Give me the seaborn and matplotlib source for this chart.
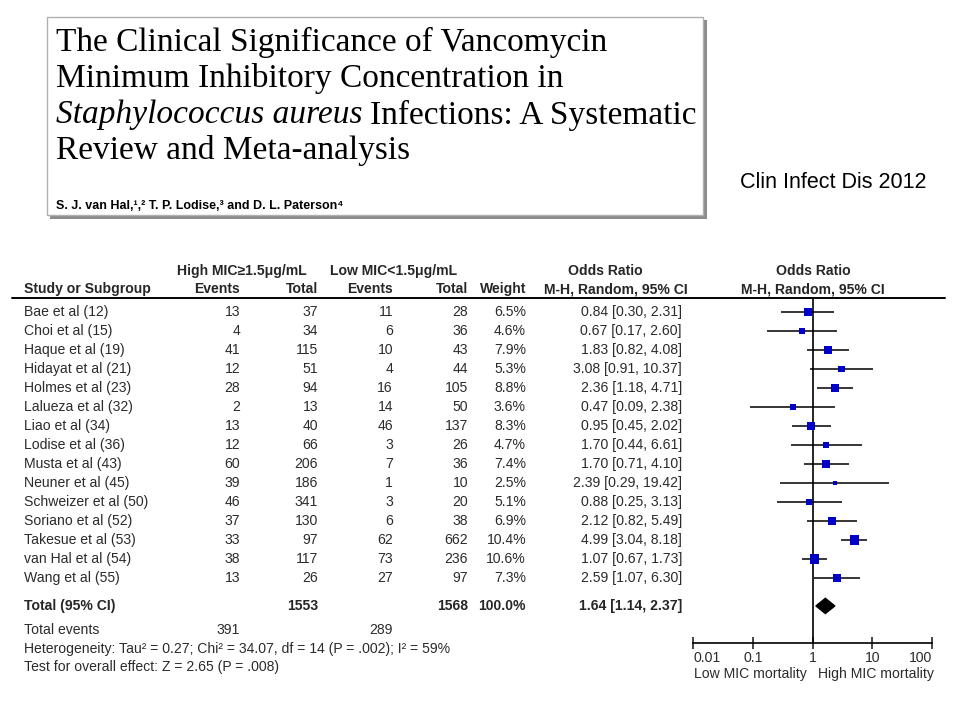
import numpy as np
import pandas as pd
import matplotlib
matplotlib.use("Agg")
import matplotlib.pyplot as plt
from matplotlib.patches import Rectangle, Polygon
import seaborn as sns

# data
studies = ["Bae et al (12)", "Choi et al (15)", "Haque et al (19)", "Hidayat et al (21)",
           "Holmes et al (23)", "Lalueza et al (32)", "Liao et al (34)", "Lodise et al (36)",
           "Musta et al (43)", "Neuner et al (45)", "Schweizer et al (50)", "Soriano et al (52)",
           "Takesue et al (53)", "van Hal et al (54)", "Wang et al (55)"]
high_events = [13, 4, 41, 12, 28, 2, 13, 12, 60, 39, 46, 37, 33, 38, 13]
high_total = [37, 34, 115, 51, 94, 13, 40, 66, 206, 186, 341, 130, 97, 117, 26]
low_events = [11, 6, 10, 4, 16, 14, 46, 3, 7, 1, 3, 6, 62, 73, 27]
low_total = [28, 36, 43, 44, 105, 50, 137, 26, 36, 10, 20, 38, 662, 236, 97]
weight = [6.5, 4.6, 7.9, 5.3, 8.8, 3.6, 8.3, 4.7, 7.4, 2.5, 5.1, 6.9, 10.4, 10.6, 7.3]
odds = [0.84, 0.67, 1.83, 3.08, 2.36, 0.47, 0.95, 1.70, 1.70, 2.39, 0.88, 2.12, 4.99, 1.07, 2.59]
ci_low = [0.30, 0.17, 0.82, 0.91, 1.18, 0.09, 0.45, 0.44, 0.71, 0.29, 0.25, 0.82, 3.04, 0.67, 1.07]
ci_high = [2.31, 2.60, 4.08, 10.37, 4.71, 2.38, 2.02, 6.61, 4.10, 19.42, 3.13, 5.49, 8.18, 1.73, 6.30]

total_or = 1.64
total_ci = [1.14, 2.37]
total_n = [1553, 1568]
total_weight = 100.0
total_events = [391, 289]
ticks = [0.01, 0.1, 1, 10, 100]
tick_labels = ["0.01", "0.1", "1", "10", "100"]

df = pd.DataFrame({"study": studies, "odds": odds, "lo": ci_low, "hi": ci_high,
                   "weight": weight, "row": np.arange(len(studies))})

sns.set_theme(style="white")
plt.rcParams['font.family'] = ['Liberation Sans', 'DejaVu Sans']

fig = plt.figure(figsize=(9.6, 7.2), dpi=100)
fig.patch.set_facecolor("white")

# overlay axes in pixel units for all the text
ax_t = fig.add_axes([0, 0, 1, 1])
ax_t.set_xlim(0, 960)
ax_t.set_ylim(720, 0)
ax_t.axis("off")

### TITLE BOX ###
ax_t.add_patch(Rectangle((50, 20), 657, 199, facecolor="#8c8c8c", edgecolor="none", zorder=1))
ax_t.add_patch(Rectangle((47, 17), 656, 198, facecolor="white", edgecolor="#b0b0b0", lw=1, zorder=2))

serif = ["Liberation Serif", "DejaVu Serif"]
tsize = 24
ax_t.text(56, 42, "The Clinical Significance of Vancomycin", fontsize=tsize, family=serif,
          va="center", color="black", zorder=3)
ax_t.text(56, 79, "Minimum Inhibitory Concentration in", fontsize=tsize, family=serif,
          va="center", color="black", zorder=3)
it = ax_t.text(56, 115, "Staphylococcus aureus", fontsize=tsize, family=serif, style="italic",
               va="center", color="black", zorder=3)
fig.canvas.draw()
bb = it.get_window_extent(renderer=fig.canvas.get_renderer())
x_end = bb.x1 * 960 / fig.bbox.width
ax_t.text(x_end + 7, 115, "Infections: A Systematic", fontsize=tsize, family=serif,
          va="center", color="black", zorder=3)
ax_t.text(56, 151, "Review and Meta-analysis", fontsize=tsize, family=serif,
          va="center", color="black", zorder=3)
ax_t.text(56, 206, "S. J. van Hal,\u00b9\u02d2\u00b2 T. P. Lodise,\u00b3 and D. L. Paterson\u2074".replace("\u02d2", ","),
          fontsize=9, fontweight="bold", va="center", color="black", zorder=3,
          family=["Liberation Sans Narrow", "Liberation Sans", "DejaVu Sans"])

ax_t.text(833, 182, "Clin Infect Dis 2012", fontsize=15.5, ha="center", va="center", color="black")

### TABLE ###
fs = 10.1
grey = "#2b2b2b"
def row_y(i):
    return 312 + 19 * i

ax_t.text(242, 271, "High MIC\u22651.5\u03bcg/mL", fontsize=fs, fontweight="bold", ha="center", va="center")
ax_t.text(394, 271, "Low MIC<1.5\u03bcg/mL", fontsize=fs, fontweight="bold", ha="center", va="center")
ax_t.text(605, 271, "Odds Ratio", fontsize=fs, fontweight="bold", ha="center", va="center")
ax_t.text(813, 271, "Odds Ratio", fontsize=fs, fontweight="bold", ha="center", va="center")
hy = 289
ax_t.text(24, hy, "Study or Subgroup", fontsize=fs, fontweight="bold", va="center")
ax_t.text(240, hy, "Events", fontsize=fs, fontweight="bold", ha="right", va="center")
ax_t.text(318, hy, "Total", fontsize=fs, fontweight="bold", ha="right", va="center")
ax_t.text(393, hy, "Events", fontsize=fs, fontweight="bold", ha="right", va="center")
ax_t.text(468, hy, "Total", fontsize=fs, fontweight="bold", ha="right", va="center")
ax_t.text(526, hy, "Weight", fontsize=fs, fontweight="bold", ha="right", va="center")
ax_t.text(616, hy, "M-H, Random, 95% CI", fontsize=fs, fontweight="bold", ha="center", va="center")
ax_t.text(813, hy, "M-H, Random, 95% CI", fontsize=fs, fontweight="bold", ha="center", va="center")
ax_t.plot([12, 945], [298, 298], color="black", lw=1.4)

for i, name in enumerate(studies):
    y = row_y(i)
    ax_t.text(24, y, name, fontsize=fs, color=grey, va="center")
    ax_t.text(240, y, str(high_events[i]), fontsize=fs, color=grey, ha="right", va="center")
    ax_t.text(318, y, str(high_total[i]), fontsize=fs, color=grey, ha="right", va="center")
    ax_t.text(393, y, str(low_events[i]), fontsize=fs, color=grey, ha="right", va="center")
    ax_t.text(468, y, str(low_total[i]), fontsize=fs, color=grey, ha="right", va="center")
    ax_t.text(526, y, "%.1f%%" % weight[i], fontsize=fs, color=grey, ha="right", va="center")
    ax_t.text(682, y, "%.2f [%.2f, %.2f]" % (odds[i], ci_low[i], ci_high[i]),
              fontsize=fs, color=grey, ha="right", va="center")

ty = row_y(15.47)
ax_t.text(24, ty, "Total (95% CI)", fontsize=fs, fontweight="bold", va="center")
ax_t.text(318, ty, str(total_n[0]), fontsize=fs, fontweight="bold", ha="right", va="center")
ax_t.text(468, ty, str(total_n[1]), fontsize=fs, fontweight="bold", ha="right", va="center")
ax_t.text(526, ty, "%.1f%%" % total_weight, fontsize=fs, fontweight="bold", ha="right", va="center")
ax_t.text(682, ty, "%.2f [%.2f, %.2f]" % (total_or, total_ci[0], total_ci[1]),
          fontsize=fs, fontweight="bold", ha="right", va="center")
ax_t.text(24, 630, "Total events", fontsize=fs, color=grey, va="center")
ax_t.text(240, 630, str(total_events[0]), fontsize=fs, color=grey, ha="right", va="center")
ax_t.text(393, 630, str(total_events[1]), fontsize=fs, color=grey, ha="right", va="center")
ax_t.text(24, 649, "Heterogeneity: Tau\u00b2 = 0.27; Chi\u00b2 = 34.07, df = 14 (P = .002); I\u00b2 = 59%",
          fontsize=fs, color=grey, va="center")
ax_t.text(24, 667, "Test for overall effect: Z = 2.65 (P = .008)", fontsize=fs, color=grey, va="center")

### FOREST PLOT ###
left, right, top, bottom = 693, 932, 298, 643
ax_f = fig.add_axes([left / 960, 1 - bottom / 720, (right - left) / 960, (bottom - top) / 720])
ax_f.set_facecolor("none")
ax_f.set_xscale("log")
ax_f.set_xlim(0.01, 100)
ax_f.set_ylim((bottom - 312) / 19, (top - 312) / 19)

ax_f.hlines(df.row, df.lo, df.hi, color="black", lw=1.1, zorder=2)
sns.scatterplot(data=df, x="odds", y="row", size="weight", sizes=(10, 45), marker="s",
                color="#0000c8", edgecolor="none", legend=False, ax=ax_f, zorder=3)
ax_f.axvline(1, color="black", lw=1.2, zorder=1)

dy = 0.4
yt = 15.47
ax_f.add_patch(Polygon([(total_ci[0], yt), (total_or, yt - dy), (total_ci[1], yt), (total_or, yt + dy)],
                       closed=True, facecolor="black", edgecolor="black", zorder=3))

for s in ["left", "top", "right"]:
    ax_f.spines[s].set_visible(False)
ax_f.spines["bottom"].set_color("black")
ax_f.spines["bottom"].set_linewidth(1.2)
ax_f.set_yticks([])
ax_f.set_xticks(ticks)
ax_f.set_xticklabels(tick_labels)
ax_f.minorticks_off()
ax_f.tick_params(axis="x", direction="inout", length=9, width=1.2, labelsize=fs,
                 labelcolor=grey, pad=1, bottom=True)
labs = ax_f.get_xticklabels()
labs[0].set_horizontalalignment("left")
labs[-1].set_horizontalalignment("right")
ax_f.set_xlabel("")
ax_f.set_ylabel("")

ax_t.text(807, 674, "Low MIC mortality", fontsize=fs, color=grey, ha="right", va="center")
ax_t.text(818, 674, "High MIC mortality", fontsize=fs, color=grey, ha="left", va="center")

plt.savefig("out.png", dpi=100, facecolor="white")
